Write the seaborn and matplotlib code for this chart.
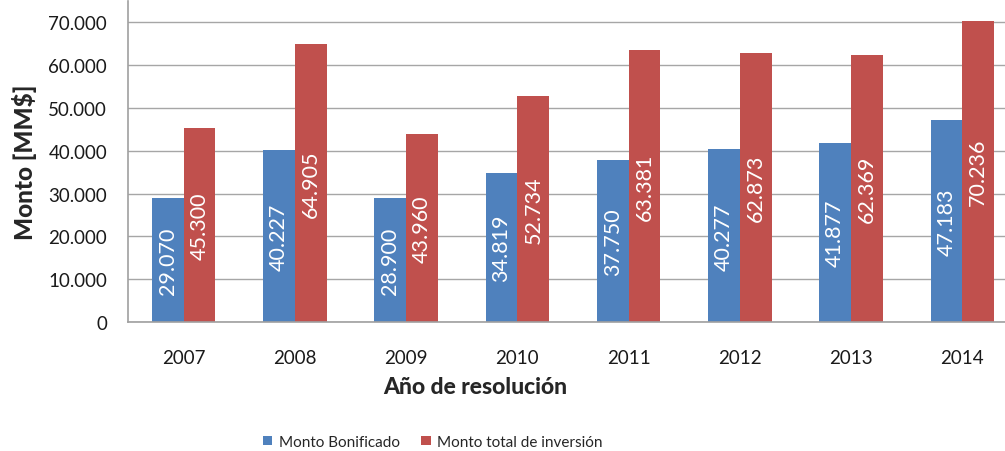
import pandas as pd
import numpy as np
import matplotlib
matplotlib.use("Agg")
import matplotlib.pyplot as plt
import seaborn as sns
from matplotlib.ticker import FuncFormatter, MultipleLocator

# Datos
anios = ["2007", "2008", "2009", "2010", "2011", "2012", "2013", "2014"]
monto_bonificado = [29070, 40227, 28900, 34819, 37750, 40277, 41877, 47183]
monto_total = [45300, 64905, 43960, 52734, 63381, 62873, 62369, 70236]
series = ["Monto Bonificado", "Monto total de inversión"]
colores = ["#4F81BD", "#C0504D"]

df = pd.DataFrame({
    "Año": anios * 2,
    "Monto": monto_bonificado + monto_total,
    "Serie": [series[0]] * len(anios) + [series[1]] * len(anios),
})

sns.set_style("white")
plt.rcParams['font.family'] = ['Lato', 'DejaVu Sans']


def miles(x):
    return f"{x:,.0f}".replace(",", ".")


fig = plt.figure(figsize=(10.05, 4.52), dpi=100)
ax = fig.add_axes([128 / 1005, (452 - 323.3) / 452, 890 / 1005, 321.8 / 452])

sns.barplot(data=df, x="Año", y="Monto", hue="Serie", palette=colores,
            saturation=1, width=0.572, gap=0, linewidth=0, ax=ax)

# Etiquetas dentro de las barras
for cont, vals in zip(ax.containers, [monto_bonificado, monto_total]):
    ax.bar_label(cont, labels=[miles(v) for v in vals], label_type="center",
                 rotation=90, color="white", fontsize=15.5)

ax.set_ylim(0, 75000)
ax.yaxis.set_major_locator(MultipleLocator(10000))
ax.yaxis.set_major_formatter(FuncFormatter(lambda x, p: miles(x)))
ax.yaxis.grid(True, color="#A6A6A6", linewidth=1)
ax.set_axisbelow(True)

for s in ["top", "right"]:
    ax.spines[s].set_visible(False)
for s in ["left", "bottom"]:
    ax.spines[s].set_color("#A0A0A0")
    ax.spines[s].set_linewidth(1.2)

ax.tick_params(axis="both", length=0, labelsize=13.5, colors="#1a1a1a")
ax.tick_params(axis="y", pad=15)
ax.tick_params(axis="x", pad=19)

ax.set_ylabel("Monto [MM$]", fontsize=17.5, fontweight="black")
ax.set_xlabel("Año de resolución", fontsize=16.5, fontweight="black")
ax.xaxis.set_label_coords((475 - 128) / 890, -(377 - 323.3) / 321.8)
ax.yaxis.set_label_coords(-(128 - 37) / 890, 0.5)

handles, labels = ax.get_legend_handles_labels()
ax.legend_.remove()
fig.legend(handles, labels, loc="center", bbox_to_anchor=(433 / 1005, 1 - 443 / 452),
           ncol=2, frameon=False, fontsize=11, handlelength=0.6, handleheight=0.6,
           handletextpad=0.45, columnspacing=1.4)

fig.savefig("out.png", dpi=100)
